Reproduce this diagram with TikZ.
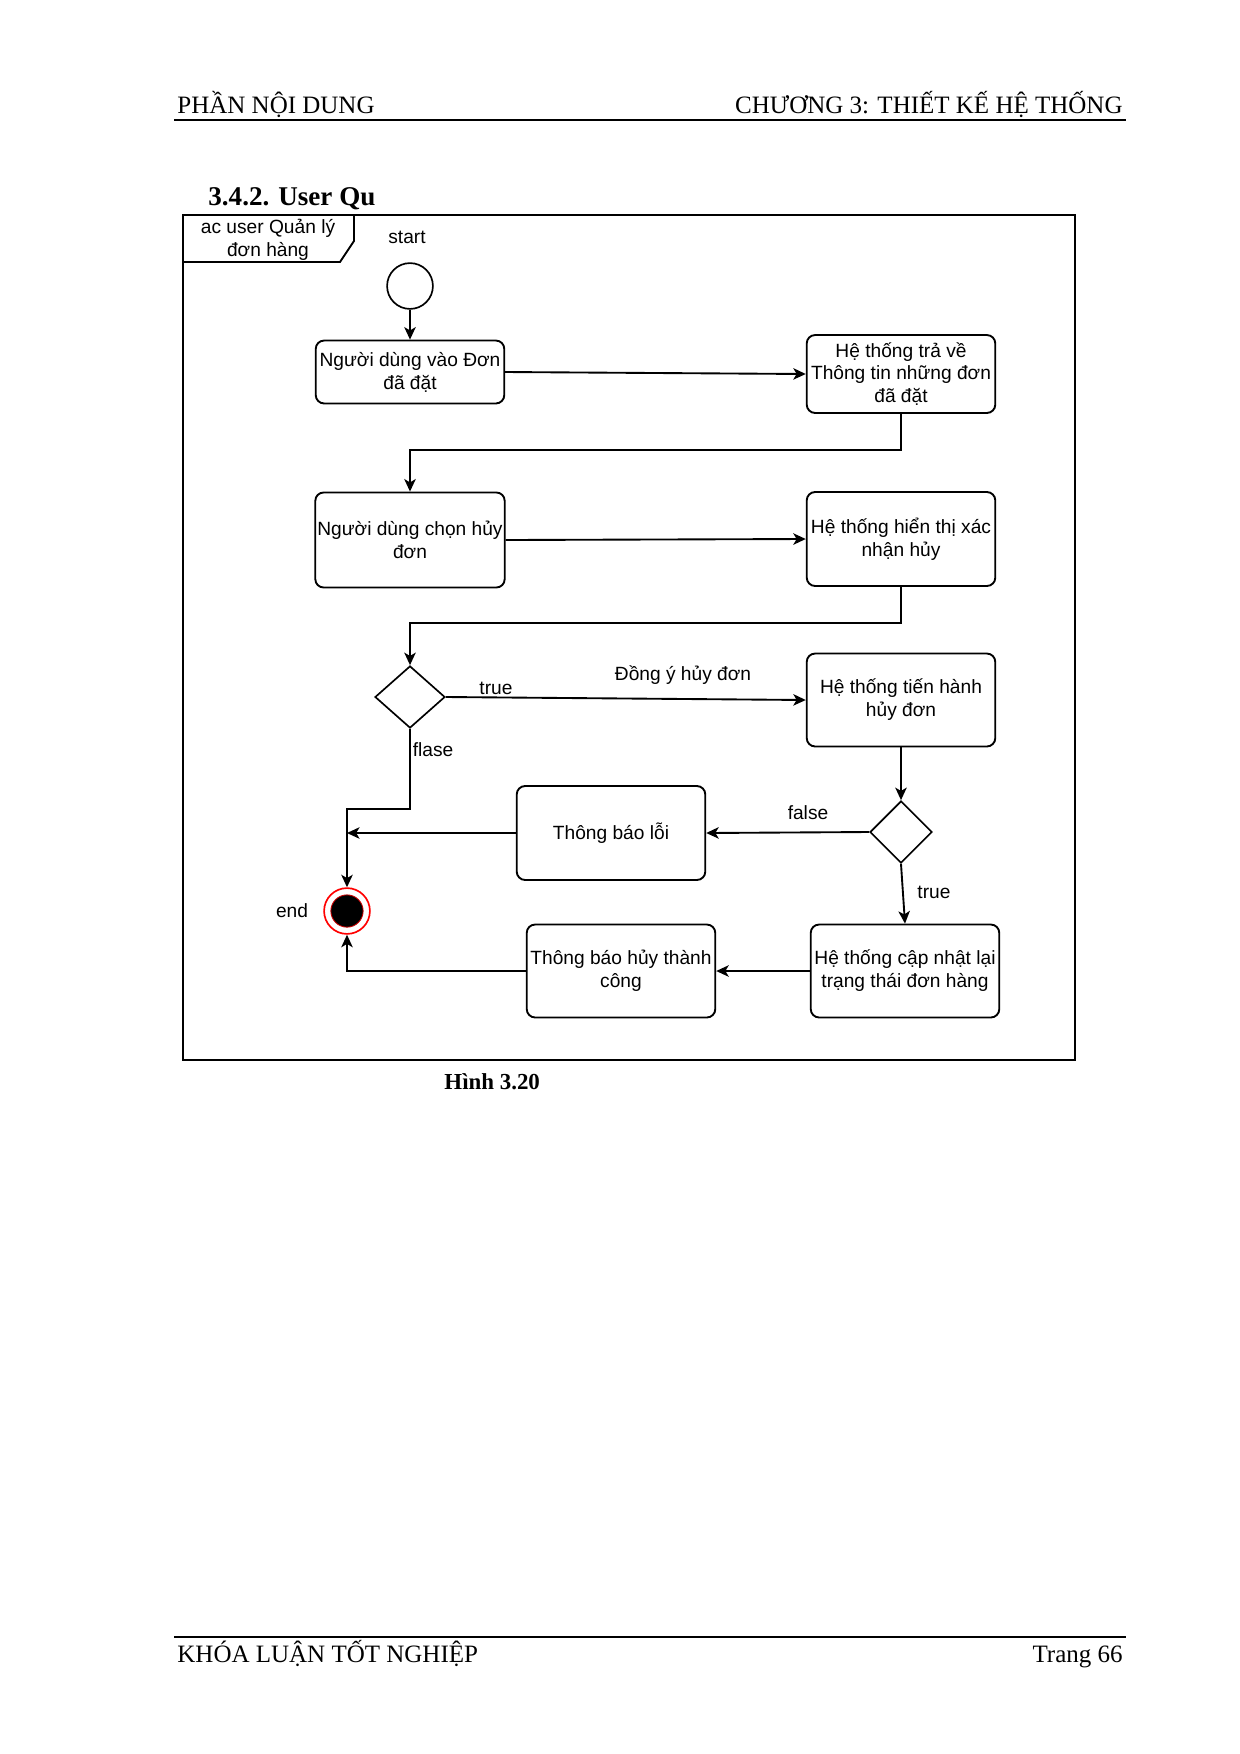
\documentclass[tikz,border=0pt]{standalone}
\usepackage{fontspec}
\setmainfont{Liberation Serif}
\newfontfamily\diag{Liberation Sans}
\usetikzlibrary{arrows.meta,shapes.geometric}
\begin{document}
\begin{tikzpicture}[x=0.48pt,y=-0.48pt,
  box/.style={draw,line width=0.9pt,rounded corners=4pt,align=center,
    font=\diag\fontsize{9.2}{11}\selectfont,minimum width=90.5pt,inner sep=1pt},
  lbl/.style={font=\diag\fontsize{9.2}{11}\selectfont,inner sep=0pt,align=center},
  dec/.style={draw,diamond,line width=0.8pt,inner sep=0pt},
  flow/.style={line width=0.9pt,-{Stealth[length=6pt,width=5.5pt,inset=1.6pt]}},
  hdr/.style={font=\fontsize{12}{14}\selectfont,inner sep=0pt}]
\useasboundingbox (0,0) rectangle (1240,1754);

% page header / footer
\node[hdr,anchor=base west] (h1) at (177,113) {PHẦN NỘI DUNG};
\node[hdr,anchor=base east] (h2) at (1123,113) {CHƯƠNG 3: THIẾT KẾ HỆ THỐNG};
\draw[line width=1.1pt] (174,120) -- (1126,120);
\node[font=\bfseries\fontsize{13}{15}\selectfont,inner sep=0pt,anchor=base west] (title) at (208,205) {3.4.2. User Qu};
\node[font=\bfseries\fontsize{11}{13}\selectfont,inner sep=0pt,anchor=base west] (cap) at (444,1089) {Hình 3.20};
\draw[line width=1.1pt] (174,1637) -- (1126,1637);
\node[hdr,anchor=base west] (f1) at (177,1662) {KHÓA LUẬN TỐT NGHIỆP};
\node[hdr,anchor=base east] (f2) at (1123,1662) {Trang 66};

% frame
\draw[line width=0.9pt] (183,215) rectangle (1075,1060);
\draw[line width=0.9pt] (183,262) -- (340,262) -- (354,241) -- (354,215);
\node[lbl] (fl) at (268,240) {ac user Quản lý\\đơn hàng};

% nodes
\node[lbl] (startl) at (407,237) {start};
\node[circle,draw,line width=0.8pt,minimum size=22pt,inner sep=0pt] (st) at (410,286) {};
\node[box,minimum height=30.2pt] (b1) at (410,372) {Người dùng vào Đơn\\đã đặt};
\node[box,minimum height=37.4pt] (b2) at (901,374) {Hệ thống trả về\\Thông tin những đơn\\đã đặt};
\node[box,minimum height=45.6pt] (b3) at (410,540) {Người dùng chọn hủy\\đơn};
\node[box,minimum height=45.1pt] (b4) at (901,539) {Hệ thống hiển thị xác\\nhận hủy};
\node[dec,minimum width=33.6pt,minimum height=29.8pt] (d1) at (410,697) {};
\node[box,minimum height=44.6pt] (b5) at (901,700) {Hệ thống tiến hành\\hủy đơn};
\node[dec,minimum width=29.8pt,minimum height=29.8pt] (d2) at (901,832) {};
\node[box,minimum height=45.1pt] (loi) at (611,833) {Thông báo lỗi};
\node[box,minimum height=44.6pt] (cn) at (905,971) {Hệ thống cập nhật lại\\trạng thái đơn hàng};
\node[box,minimum height=44.6pt] (tc) at (621,971) {Thông báo hủy thành\\công};
\node[circle,draw=red,line width=0.8pt,fill=white,minimum size=22pt,inner sep=0pt] (en) at (347,911) {};
\node[circle,draw=red!80!black,line width=0.4pt,fill=black,minimum size=15.5pt,inner sep=0pt] (enin) at (347,911) {};
\node[lbl] (endl) at (292,911) {end};

% labels
\node[lbl] (lt1) at (496,688) {true};
\node[lbl] (lok) at (683,675) {Đồng ý hủy đơn};
\node[lbl] (lf1) at (433,750) {flase};
\node[lbl] (lf2) at (808,813) {false};
\node[lbl] (lt2) at (934,892) {true};

% connectors
\coordinate (j) at (347,833);
\draw[flow] (st.south) -- (b1.north);
\draw[flow] (b1.east) -- (b2.west);
\draw[flow] (b2.south) -- ++(0,36) -| (b3.north);
\draw[flow] (b3.east) -- (b4.west);
\draw[flow] (b4.south) -- ++(0,36) -| (d1.north);
\draw[flow] (d1.east) -- (b5.west);
\draw[flow] (d1.south) -- ++(0,80) -| (en.north);
\draw[flow] (loi.west) -- (j);
\draw[flow] (b5.south) -- (d2.north);
\draw[flow] (d2.west) -- (loi.east);
\draw[flow] (d2.south) -- (cn.north);
\draw[flow] (cn.west) -- (tc.east);
\draw[flow] (tc.west) -| (en.south);
\end{tikzpicture}
\end{document}
